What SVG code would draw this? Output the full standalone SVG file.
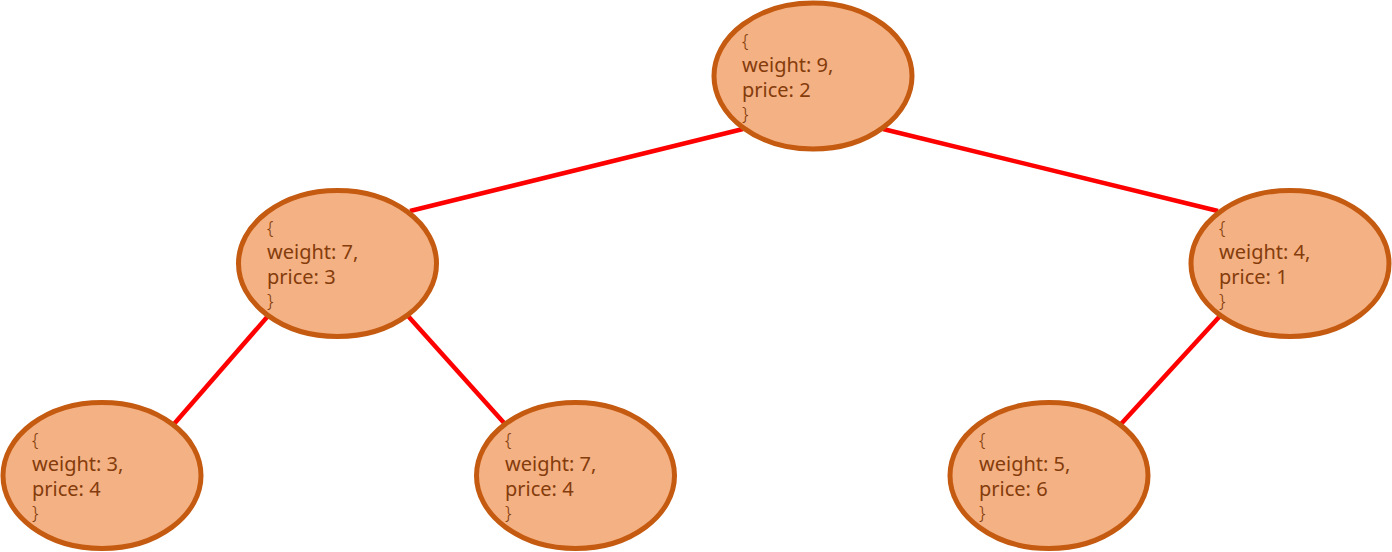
<svg xmlns="http://www.w3.org/2000/svg" width="1392" height="552" viewBox="0 0 1392 552">
<style>
.n{fill:#F4B183;stroke:#C55A11;stroke-width:5}
.t{font-family:"Noto Sans","Open Sans",sans-serif;font-size:20px;fill:#843C0C}
.b{font-size:18px;font-weight:300}
.c{stroke:#FF0000;stroke-width:4.5;fill:none}
</style>
<g id="connectors">
<line class="c" x1="743" y1="129" x2="410" y2="211"/>
<line class="c" x1="883" y1="129" x2="1218" y2="211"/>
<line class="c" x1="268" y1="316" x2="174" y2="424"/>
<line class="c" x1="408" y1="316" x2="505" y2="424"/>
<line class="c" x1="1220" y1="316" x2="1121" y2="424"/>
</g>
<g id="n1"><ellipse class="n" cx="813" cy="76" rx="99" ry="73"/>
<text class="t"><tspan class="b" x="742" y="47">{</tspan><tspan x="742" y="72">weight: 9,</tspan><tspan x="742" y="97">price: 2</tspan><tspan class="b" x="742" y="120">}</tspan></text></g>
<g id="n2"><ellipse class="n" cx="337.5" cy="263.5" rx="99" ry="73"/>
<text class="t"><tspan class="b" x="267" y="234">{</tspan><tspan x="267" y="259">weight: 7,</tspan><tspan x="267" y="284">price: 3</tspan><tspan class="b" x="267" y="307">}</tspan></text></g>
<g id="n3"><ellipse class="n" cx="1290" cy="263.5" rx="99" ry="73"/>
<text class="t"><tspan class="b" x="1219" y="234">{</tspan><tspan x="1219" y="259">weight: 4,</tspan><tspan x="1219" y="284">price: 1</tspan><tspan class="b" x="1219" y="307">}</tspan></text></g>
<g id="n4"><ellipse class="n" cx="102" cy="475.5" rx="99" ry="73"/>
<text class="t"><tspan class="b" x="32" y="446">{</tspan><tspan x="32" y="471">weight: 3,</tspan><tspan x="32" y="496">price: 4</tspan><tspan class="b" x="32" y="519">}</tspan></text></g>
<g id="n5"><ellipse class="n" cx="575.5" cy="475.5" rx="99" ry="73"/>
<text class="t"><tspan class="b" x="505" y="446">{</tspan><tspan x="505" y="471">weight: 7,</tspan><tspan x="505" y="496">price: 4</tspan><tspan class="b" x="505" y="519">}</tspan></text></g>
<g id="n6"><ellipse class="n" cx="1049" cy="475.5" rx="99" ry="73"/>
<text class="t"><tspan class="b" x="979" y="446">{</tspan><tspan x="979" y="471">weight: 5,</tspan><tspan x="979" y="496">price: 6</tspan><tspan class="b" x="979" y="519">}</tspan></text></g>
</svg>
